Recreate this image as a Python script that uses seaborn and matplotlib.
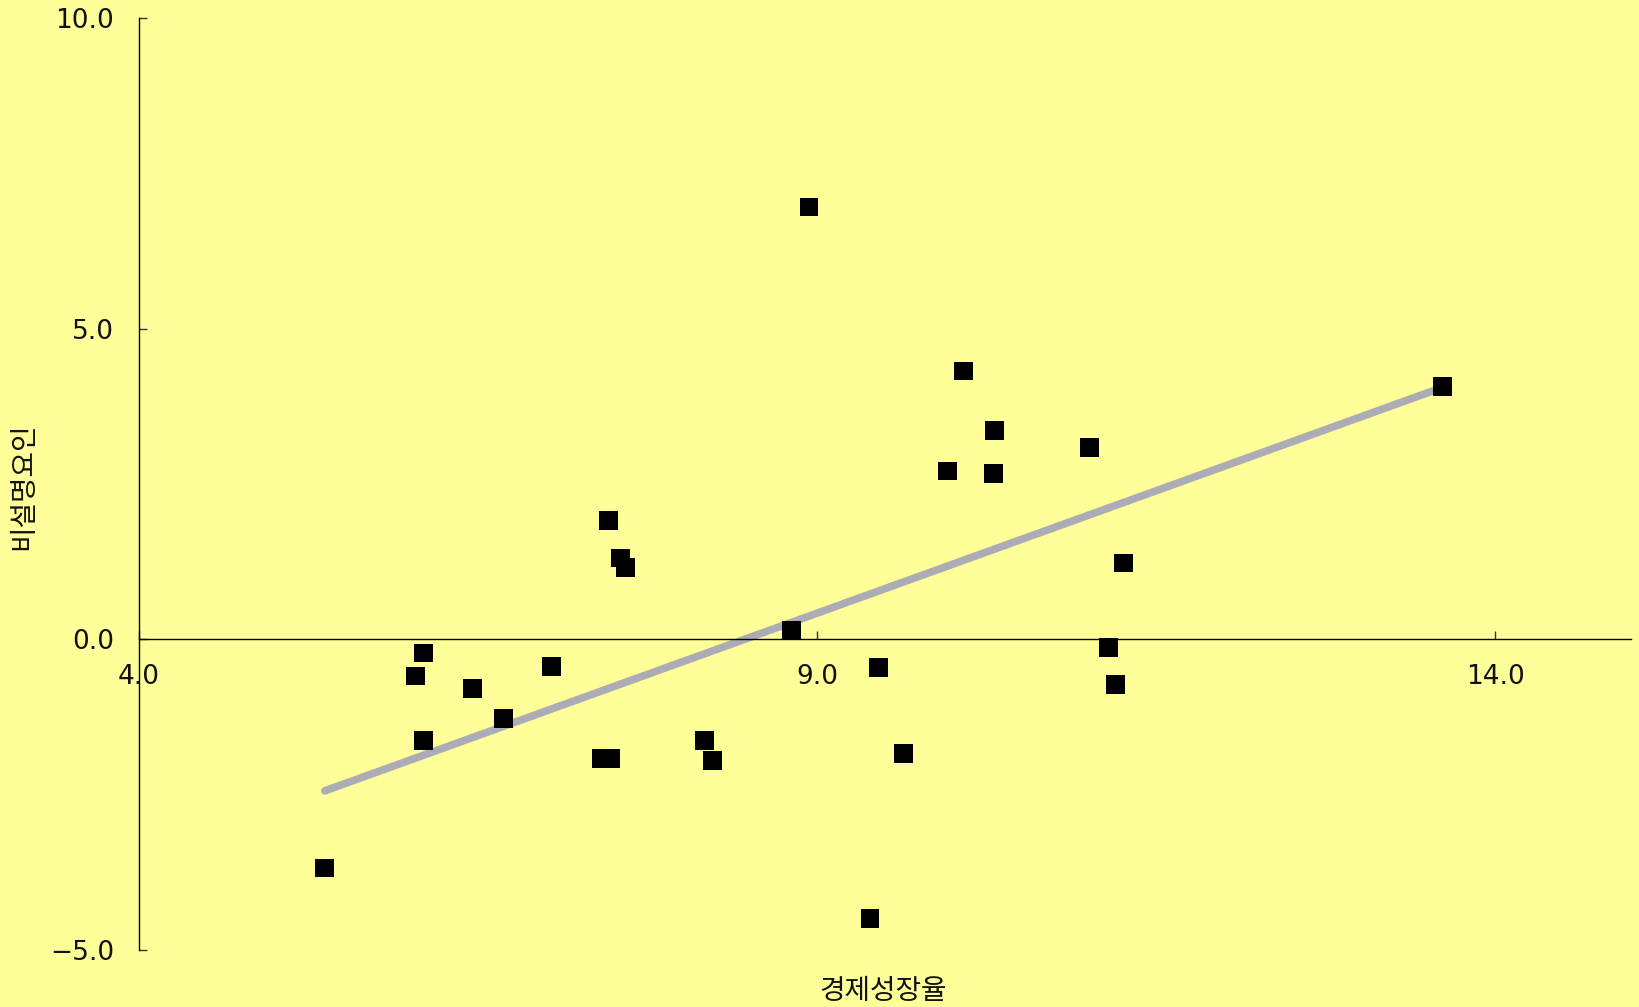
import pandas as pd
import seaborn as sns
import matplotlib.pyplot as plt

# economic growth rate (x) vs unexplained factor (y)
growth = [5.37, 6.04, 6.10, 6.10, 6.46, 6.69, 7.04, 7.41, 7.48, 7.46,
          7.55, 7.59, 8.17, 8.23, 8.81, 8.94, 9.39, 9.45, 9.64, 9.96,
          10.08, 10.30, 10.31, 11.01, 11.15, 11.20, 11.26, 13.61]
resid = [-3.68, -0.59, -0.22, -1.63, -0.79, -1.28, -0.44, -1.92, -1.92, 1.92,
         1.31, 1.16, -1.63, -1.95, 0.15, 6.96, -4.50, -0.45, -1.83, 2.71,
         4.32, 2.67, 3.36, 3.09, -0.13, -0.72, 1.23, 4.07]
# trend line as shown in the chart
trend_slope = 0.788
trend_intercept = -6.67
xticks = [4.0, 9.0, 14.0]
yticks = [-5.0, 0.0, 5.0, 10.0]

df = pd.DataFrame({"growth": growth, "resid": resid})
trend = pd.DataFrame({"growth": [min(growth), max(growth)]})
trend["resid"] = trend_intercept + trend_slope * trend["growth"]

sns.set_style("ticks")
plt.rcParams['font.family'] = ['DejaVu Sans']
bg = '#FFFF99'

fig = plt.figure(figsize=(16.39, 10.07), dpi=100, facecolor=bg)
ax = fig.add_axes([0.0848, 0.0566, 0.9102, 0.9254])
ax.set_facecolor(bg)

sns.lineplot(data=trend, x='growth', y='resid', ax=ax, color='#acacb6', lw=5.5,
             zorder=2)
sns.scatterplot(data=df, x='growth', y='resid', ax=ax, marker='s', s=185,
                color='black', edgecolor='none', alpha=1, zorder=3)

ax.set_xlim(4, 15)
ax.set_ylim(-5, 10)
ax.set_xticks(xticks)
ax.set_yticks(yticks)
ax.set_xticklabels([f'{v:.1f}' for v in xticks])
ax.set_yticklabels([f'{v:.1f}'.replace('-', '\u2212') for v in yticks])

ax.spines['top'].set_visible(False)
ax.spines['right'].set_visible(False)
ax.spines['bottom'].set_position(('data', 0))
for s in ('left', 'bottom'):
    ax.spines[s].set_color('black')
    ax.spines[s].set_linewidth(1.0)

ax.tick_params(axis='both', direction='in', length=6, width=1, color='#333333',
               labelsize=19, labelcolor='#111111', pad=18)

ax.set_xlabel('')
ax.set_ylabel('')
fig.text(0.539, 0.016, '경제성장율', ha='center', va='center', fontsize=20,
         color='#111111', family=['Noto Sans CJK KR', 'DejaVu Sans'])
fig.text(0.014, 0.517, '비설명요인', ha='center', va='center', fontsize=20,
         rotation=90, color='#111111', family=['Noto Sans CJK KR', 'DejaVu Sans'])

plt.savefig('out.png', dpi=100, facecolor=bg)
